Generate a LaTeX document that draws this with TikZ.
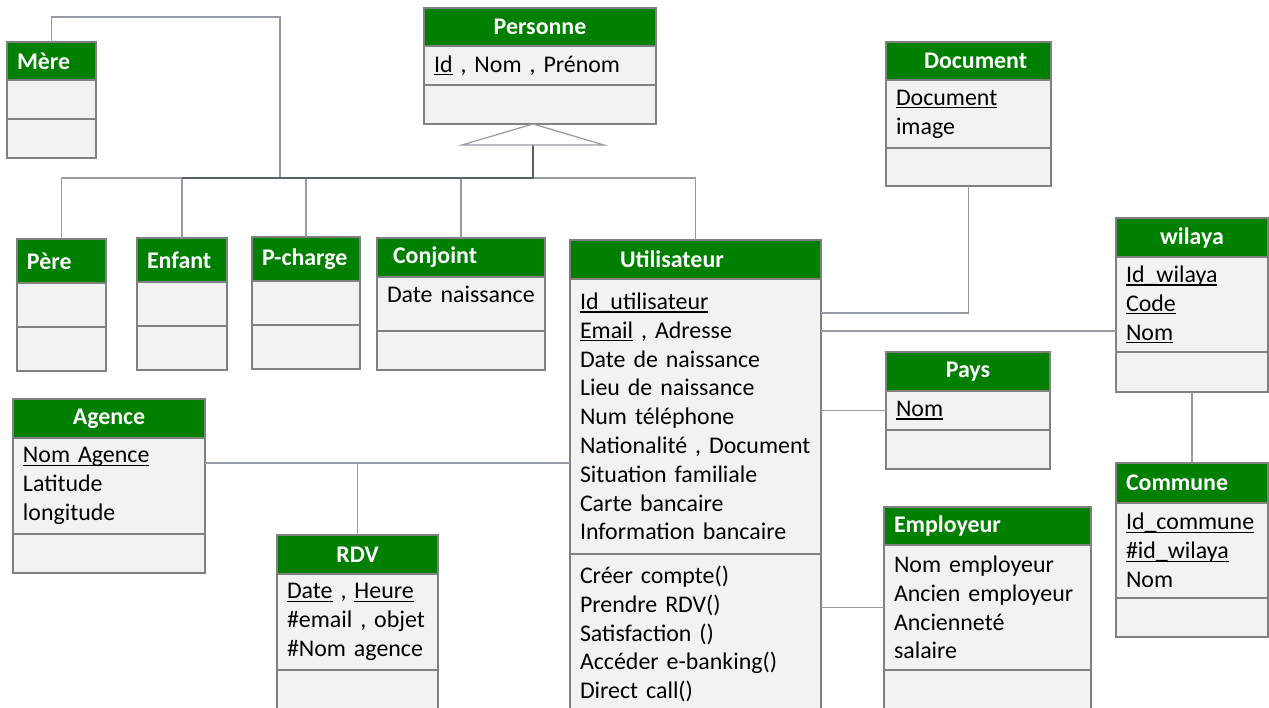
\documentclass[tikz,border=0pt]{standalone}
\usepackage{fontspec}
\setmainfont{Carlito}
\usetikzlibrary{positioning,calc}

\definecolor{headgreen}{RGB}{0,128,0}
\definecolor{partgray}{RGB}{242,242,242}
\definecolor{edgegray}{RGB}{128,128,128}
\definecolor{linkgray}{RGB}{150,155,165}
\definecolor{trunkgray}{RGB}{90,95,110}

\newcommand\classfont{\fontsize{13.6pt}{16.4pt}\selectfont}
% underlined key attribute
\newcommand\pk[1]{\leavevmode\setbox0\hbox{#1}\rlap{\rule[-0.13em]{\wd0}{0.055em}}\box0\relax}

\tikzset{
  head/.style 2 args={draw=edgegray, fill=headgreen, text=white, font=\classfont\bfseries,
    inner xsep=0.2cm, inner ysep=0pt, outer sep=0pt, text width=#1cm, minimum height=#2cm,
    align=left, anchor=north west, line width=0.7pt},
  part/.style 2 args={draw=edgegray, fill=partgray, font=\classfont,
    inner xsep=0.2cm, inner ysep=0pt, outer sep=0pt, text width=#1cm, minimum height=#2cm,
    align=left, line width=0.7pt},
  link/.style={draw=linkgray, line width=0.7pt},
  trunk/.style={draw=trunkgray, line width=1.3pt},
}

\begin{document}
\begin{tikzpicture}[x=1cm,y=-1cm]
  \useasboundingbox (0,0) rectangle (25.38,14.14);

  % classes
  \node[head={1.38}{0.76}] (mere) at (0.14,0.84) {Mère};
  \node[part={1.38}{0.78}, below=0pt of mere] (mere-a) {};
  \node[part={1.38}{0.78}, below=0pt of mere-a] (mere-m) {};

  \node[head={4.24}{0.76}, align=center] (pers) at (8.48,0.16) {Personne};
  \node[part={4.24}{0.78}, below=0pt of pers] (pers-a) {\pk{Id} , Nom , Prénom};
  \node[part={4.24}{0.78}, below=0pt of pers-a] (pers-m) {};

  \foreach \n/\x/\y/\w/\t in {pere/0.34/4.78/1.38/Père, enf/2.74/4.76/1.40/Enfant, pch/5.04/4.74/1.76/P-charge} {
    \node[head={\w}{0.88}] (\n) at (\x,\y) {\t};
    \node[part={\w}{0.88}, below=0pt of \n] (\n-a) {};
    \node[part={\w}{0.88}, below=0pt of \n-a] (\n-m) {};
  }

  \node[head={2.96}{0.78}] (conj) at (7.54,4.76) {\hspace*{0.12cm}Conjoint};
  \node[part={2.96}{1.08}, text depth=0.37cm, below=0pt of conj] (conj-a) {Date naissance};
  \node[part={2.96}{0.78}, below=0pt of conj-a] (conj-m) {};

  \node[head={4.62}{0.78}] (util) at (11.40,4.80) {\hspace*{0.8cm}Utilisateur};
  \node[part={4.62}{5.50}, below=0pt of util] (util-a) {\pk{Id\_utilisateur}\\ \pk{Email} , Adresse\\ Date de naissance\\ Lieu de naissance\\ Num téléphone\\ Nationalité , Document\\ Situation familiale\\ Carte bancaire\\ Information bancaire};
  \node[part={4.62}{3.20}, below=0pt of util-a] (util-m) {Créer compte()\\ Prendre RDV()\\ Satisfaction ()\\ Accéder e-banking()\\ Direct call()};

  \node[head={2.90}{0.76}] (doc) at (17.72,0.84) {\hspace*{0.56cm}Document};
  \node[part={2.90}{1.36}, below=0pt of doc] (doc-a) {\pk{Document}\\ image};
  \node[part={2.90}{0.76}, below=0pt of doc-a] (doc-m) {};

  \node[head={2.64}{0.78}, align=center] (wil) at (22.32,4.36) {wilaya};
  \node[part={2.64}{1.90}, below=0pt of wil] (wil-a) {\pk{Id\_wilaya}\\ \pk{Code}\\ \pk{Nom}};
  \node[part={2.64}{0.80}, below=0pt of wil-a] (wil-m) {};

  \node[head={2.88}{0.78}, align=center] (pays) at (17.72,7.04) {Pays};
  \node[part={2.88}{0.78}, below=0pt of pays] (pays-a) {\pk{Nom}};
  \node[part={2.88}{0.78}, below=0pt of pays-a] (pays-m) {};

  \node[head={2.64}{0.80}] (com) at (22.32,9.26) {Commune};
  \node[part={2.64}{1.90}, below=0pt of com] (com-a) {\pk{Id\_commune}\\ \pk{\#id\_wilaya}\\ Nom};
  \node[part={2.64}{0.78}, below=0pt of com-a] (com-m) {};

  \node[head={3.74}{0.76}] (emp) at (17.68,10.14) {Employeur};
  \node[part={3.74}{2.50}, below=0pt of emp] (emp-a) {Nom employeur\\ Ancien employeur\\ Ancienneté\\ salaire};
  \node[part={3.74}{0.80}, below=0pt of emp-a] (emp-m) {};

  \node[head={3.44}{0.78}, align=center] (ag) at (0.26,7.98) {Agence};
  \node[part={3.44}{1.92}, below=0pt of ag] (ag-a) {\pk{Nom Agence}\\ Latitude\\ longitude};
  \node[part={3.44}{0.78}, below=0pt of ag-a] (ag-m) {};

  \node[head={2.82}{0.78}, align=center] (rdv) at (5.54,10.70) {RDV};
  \node[part={2.82}{1.92}, below=0pt of rdv] (rdv-a) {\pk{Date} , \pk{Heure}\\ \#email , objet\\ \#Nom agence};
  \node[part={2.82}{0.80}, below=0pt of rdv-a] (rdv-m) {};

  % inheritance from Personne
  \coordinate (apex) at ($(pers-m.south)+(-0.14,0)$);
  \coordinate (gen) at ($(apex)+(0,0.42)$);
  \coordinate (bus) at ($(gen)+(0,0.66)$);
  \coordinate (mtop) at (5.60,0.34);
  \draw[link] (pere.north) -- (pere.north |- bus) -- (util.north |- bus) -- (util.north);
  \foreach \n in {enf,pch,conj}
    \draw[link] (\n.north) -- (\n.north |- bus);
  \draw[link] (mere.north) |- (mtop) -- (mtop |- bus);
  \draw[trunk] (gen) -- (bus) -- (enf.north |- bus);
  \draw[link, fill=white] (apex) -- ($(gen)+(-1.42,0)$) -- ($(gen)+(1.42,0)$) -- cycle;

  % associations
  \coordinate (wl) at ($(wil-a.south west)+(0,-0.42)$);
  \coordinate (al) at ($(ag-a.north east)+(0,0.50)$);
  \draw[link] (doc-m.south) |- ($(util-a.north east)+(0,0.68)$);
  \draw[link] (wl) -- (util-a.east |- wl);
  \draw[link] (pays-a.west) -- (util-a.east |- pays-a.west);
  \draw[link] (emp-a.west) -- (util-m.east |- emp-a.west);
  \draw[link] (al) -- (util-a.west |- al);
  \draw[link] (rdv.north) -- (rdv.north |- al);
  \draw[link] (wil-m.south) -- (com.north);
\end{tikzpicture}
\end{document}
